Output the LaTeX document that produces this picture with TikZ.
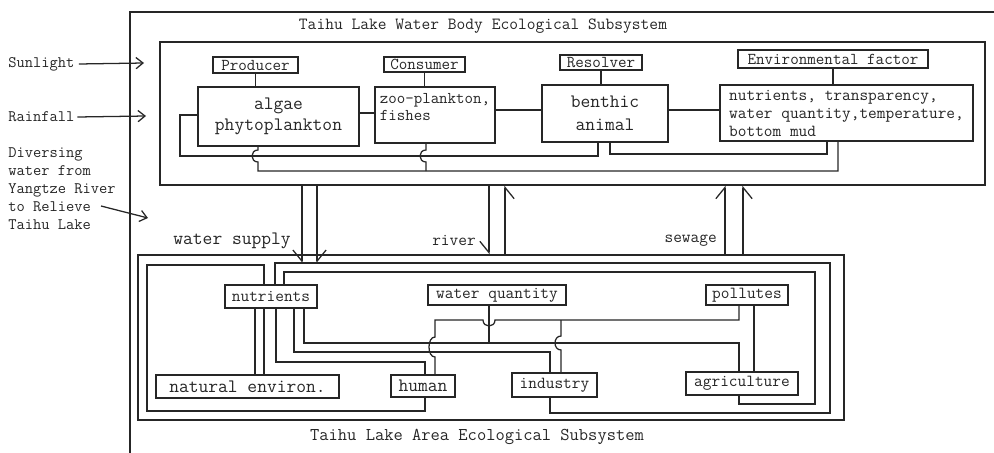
\documentclass[tikz,border=0pt]{standalone}
\usepackage{fontspec}
\usetikzlibrary{arrows.meta, calc}
\tikzset{
  framebox/.style={
    draw, rectangle, inner sep=0pt, line width=0.9pt
  },
  tagbox/.style={
    draw, rectangle, fill=white, inner sep=1pt, line width=0.9pt,
    font=\ttfamily\fontsize{11.8}{12}\selectfont
  },
  unitbox/.style={
    draw, rectangle, fill=white, inner sep=2pt, line width=0.9pt,
    align=center
  },
  partbox/.style={
    draw, rectangle, fill=white, inner sep=1pt, line width=0.9pt,
    font=\ttfamily\fontsize{12}{12}\selectfont
  },
  titlelabel/.style={
    font=\ttfamily\fontsize{12.1}{12}\selectfont, inner sep=0pt
  },
  sidelabel/.style={
    anchor=west, align=left, inner sep=0pt,
    font=\ttfamily\fontsize{11.4}{12.8}\selectfont
  },
  flowlabel/.style={
    anchor=east, inner sep=0pt, font=\ttfamily\fontsize{12}{12}\selectfont
  },
  link/.style={
    line width=0.9pt
  },
  arrow/.style={
    -{Straight Barb[length=5pt, width=8pt]}, line width=0.9pt
  },
  flowL/.style={
    -{Straight Barb[harpoon, length=8pt, width=13pt]}, line width=0.9pt
  },
  flowR/.style={
    -{Straight Barb[harpoon, swap, length=8pt, width=13pt]}, line width=0.9pt
  },
}

\begin{document}
\begin{tikzpicture}[x=0.025cm, y=-0.025cm, color=black!85]
  \useasboundingbox (0,0) rectangle (994,453);

  %%% Frames and titles %%%
  \draw[link] (994,12) -| (130,453);
  \node[framebox, minimum width=20.625cm, minimum height=3.575cm] (lake) at (572.5,113.5) {};
  \node[framebox, minimum width=17.65cm, minimum height=4.125cm] (area) at (491,337.5) {};
  \node[titlelabel] (lakettl) at (483,26) {Taihu Lake Water Body Ecological Subsystem};
  \node[titlelabel, font=\ttfamily\fontsize{12.8}{12}\selectfont] (areattl) at (477,437)
    {Taihu Lake Area Ecological Subsystem};

  %%% Water body: tag boxes %%%
  \node[tagbox, minimum width=2.125cm, minimum height=0.4cm] (prod) at (255.5,65) {Producer};
  \node[tagbox, minimum width=2.025cm, minimum height=0.375cm] (cons) at (424.5,64.5) {Consumer};
  \node[tagbox, minimum width=2.05cm, minimum height=0.375cm] (reso) at (601,62.5) {Resolver};
  \node[tagbox, minimum width=4.75cm, minimum height=0.45cm] (envf) at (833,59) {Environmental factor};

  %%% Water body: member boxes %%%
  \node[unitbox, minimum width=4.025cm, minimum height=1.475cm,
        font=\ttfamily\fontsize{13.5}{14.9}\selectfont] (algae) at (278.5,116.5)
    {algae\\phytoplankton};
  \node[unitbox, align=left, minimum width=3cm, minimum height=1.4cm,
        font=\ttfamily\fontsize{11.7}{12}\selectfont] (zoo) at (435,115)
    {zoo-plankton,\\fishes\\\mbox{}};
  \node[unitbox, minimum width=3.15cm, minimum height=1.425cm,
        font=\ttfamily\fontsize{13.5}{16.3}\selectfont] (bent) at (605,113.5)
    {benthic\\animal};
  \node[unitbox, align=left, minimum width=6.325cm, minimum height=1.4cm,
        font=\ttfamily\fontsize{12}{12.8}\selectfont] (envr) at (846.5,113)
    {nutrients, transparency,\\water quantity,temperature,\\bottom mud};

  %%% Inputs on the left %%%
  \node[sidelabel] (sun) at (8,64) {Sunlight};
  \node[sidelabel] (rain) at (8,117) {Rainfall};
  \node[sidelabel, anchor=north west] (divert) at (8,147)
    {Diversing\\water from\\Yangtze River\\to Relieve\\Taihu Lake};
  \coordinate (sunin) at (144,63);
  \coordinate (rainin) at (146,116);
  \coordinate (divin) at (148,218);

  %%% Area: boxes %%%
  \node[partbox, minimum width=2.3cm, minimum height=0.575cm] (nutr) at (271,296.5) {nutrients};
  \node[partbox, minimum width=3.45cm, minimum height=0.5cm] (wq) at (497,295) {water quantity};
  \node[partbox, minimum width=2.05cm, minimum height=0.5cm] (poll) at (747,295) {pollutes};
  \node[partbox, minimum width=4.575cm, minimum height=0.575cm,
        font=\ttfamily\fontsize{13.5}{12}\selectfont] (natenv) at (247.5,386.5) {natural environ.};
  \node[partbox, minimum width=1.6cm, minimum height=0.55cm,
        font=\ttfamily\fontsize{13.5}{12}\selectfont] (human) at (423,386) {human};
  \node[partbox, minimum width=2.125cm, minimum height=0.6cm] (indus) at (554.5,385) {industry};
  \node[partbox, minimum width=2.8cm, minimum height=0.575cm] (agri) at (742,383.5) {agriculture};

  %%% Flow labels %%%
  \node[flowlabel, font=\ttfamily\fontsize{13.5}{12}\selectfont] (wsup) at (291,241) {water supply};
  \node[flowlabel] (rivr) at (476,240) {river};
  \node[flowlabel] (sewg) at (717,241) {sewage};

  %%% Arrows: inputs -> water body %%%
  \draw[arrow] ([xshift=3pt]sun.east) -- (sunin);
  \draw[arrow] ([xshift=2pt]rain.east) -- (rainin);
  \draw[arrow] ($(divert.north west)+(93,59)$) -- (divin);

  %%% Water body links %%%
  \draw[link] (prod.south) -- (prod.south |- algae.north);
  \draw[link] (cons.south) -- (cons.south |- zoo.north);
  \draw[link] (reso.south) -- (reso.south |- bent.north);
  \draw[link] (envf.south) -- (envf.south |- envr.north);
  \draw[link] (algae.east |- 0,113) -- (zoo.west |- 0,113);
  \draw[link] (zoo.east |- 0,110) -- (bent.west |- 0,110);
  \draw[link] (bent.east |- 0,110) -- (envr.west |- 0,110);
  \draw[link] (algae.west |- 0,115) -| (180,156) -| (598,0 |- bent.south);
  \draw[link] (258,0 |- algae.south) -- (258,150) .. controls +(-8,0) and +(-8,0) .. (258,162)
    -- (258,171) -| (838,0 |- envr.south);
  \draw[link] (426,0 |- zoo.south) -- (426,150) .. controls +(-8,0) and +(-8,0) .. (426,162)
    -- (426,171);
  \draw[link] (610,0 |- bent.south) |- (827,154) -- (827,0 |- envr.south);

  %%% Flows between the two subsystems %%%
  \draw[flowR] (302,0 |- lake.south) -- (302,263);
  \draw[flowL] (317,0 |- lake.south) -- (317,263);
  \draw[flowR] (489,0 |- lake.south) -- (489,0 |- area.north);
  \draw[flowR] (505,0 |- area.north) -- (505,0 |- lake.south);
  \draw[flowL] (725,0 |- area.north) -- (725,0 |- lake.south);
  \draw[flowR] (743,0 |- area.north) -- (743,0 |- lake.south);

  %%% Area links %%%
  \draw[link] (264,0 |- nutr.north) |- (147,265) |- (425,411) -- (425,0 |- human.south);
  \draw[link] (255,0 |- nutr.south) -- (255,0 |- natenv.north);
  \draw[link] (264,0 |- nutr.south) -- (264,0 |- natenv.north);
  \draw[link] (275,0 |- nutr.north) |- (830,263) |- (550,413) -- (550,0 |- indus.south);
  \draw[link] (284,0 |- nutr.north) |- (815,272) |- (739,404) -- (739,0 |- agri.south);
  \draw[link] (276,0 |- nutr.south) |- (425,362) -- (425,0 |- human.north);
  \draw[link] (294,0 |- nutr.south) |- (550,352) -- (550,0 |- indus.north);
  \draw[link] (304,0 |- nutr.south) |- (739,343) -- (739,0 |- agri.north);
  \draw[link] (489,0 |- wq.south) -- (489,343);
  \draw[link] (435,0 |- human.north) -- (435,357) .. controls +(-8,0) and +(-8,0) .. (435,337)
    -- (435,320) -- (483,320) .. controls +(0,8) and +(0,8) .. (495,320)
    -| (739,0 |- poll.south);
  \draw[link] (561,0 |- indus.north) -- (561,350) .. controls +(-8,0) and +(-8,0) .. (561,336)
    -- (561,320);
  \draw[link] (754,0 |- poll.south) -- (754,0 |- agri.north);

\end{tikzpicture}
\end{document}
